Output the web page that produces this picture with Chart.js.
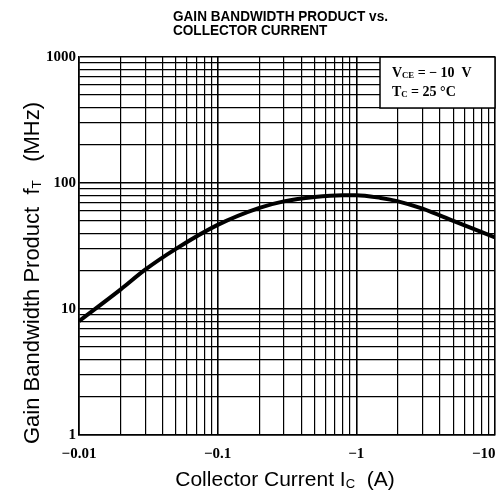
<!DOCTYPE html>
<html>
<head>
<meta charset="utf-8">
<script src="https://cdn.jsdelivr.net/npm/chart.js@4.4.0/dist/chart.umd.min.js"></script>
<style>
  html, body { margin: 0; padding: 0; background: #fff; }
  #wrap { width: 501px; height: 493px; }
</style>
</head>
<body>
<div id="wrap"><canvas id="graph"></canvas></div>
<script>
// collector current |Ic| (A) and gain bandwidth product fT (MHz)
const current = [0.01, 0.02, 0.03, 0.05, 0.1, 0.2, 0.3, 0.5, 0.8, 1, 1.5, 2, 3, 5, 10];
const fT = [8, 14.3, 20.5, 30, 46.5, 63.5, 71.5, 77.5, 80, 80, 76, 71.5, 62.5, 50, 37];

const xDecades = [0.01, 0.1, 1, 10];
const yDecades = [1, 10, 100, 1000];
const titleLines = ['GAIN BANDWIDTH PRODUCT vs.', 'COLLECTOR CURRENT'];

const serif = '"Liberation Serif", "DejaVu Serif", serif';
const sans = '"Liberation Sans", Arial, sans-serif';

function logTicks(decades) {
    let ticks = [];
    for (let i = 0; i < decades.length; i++) {
        if (i == decades.length - 1) { ticks.push({value: decades[i]}); break; }
        for (let m = 1; m < 10; m++) ticks.push({value: +(decades[i] * m).toPrecision(3)});
    }
    return ticks;
}

function isDecade(v) {
    return Math.abs(Math.log10(v) - Math.round(Math.log10(v))) < 1e-6;
}

// text with a small subscript part: pieces = [[text, sub?], ...]
function drawPieces(c, pieces, x, y, size, family, weight, align) {
    let widths = pieces.map(p => {
        c.font = weight + ' ' + (p[1] ? size * 0.62 : size) + 'px ' + family;
        return c.measureText(p[0]).width;
    });
    let total = widths.reduce((a, b) => a + b, 0);
    let cx = align == 'center' ? x - total / 2 : x;
    pieces.forEach((p, i) => {
        c.font = weight + ' ' + (p[1] ? size * 0.62 : size) + 'px ' + family;
        c.fillText(p[0], cx, p[1] ? y + size * 0.1 : y);
        cx += widths[i];
    });
}

const extraText = {
    id: 'extraText',
    afterDraw(chart) {
        const c = chart.ctx;
        const a = chart.chartArea;
        c.save();
        c.fillStyle = '#000';
        c.textBaseline = 'alphabetic';
        c.textAlign = 'left';

        // title, a narrow heavy face squeezed to the scanned width
        c.font = '600 14px ' + sans;
        let k = 215 / c.measureText(titleLines[0]).width;
        c.save();
        c.translate(173, 0);
        c.scale(k, 1);
        c.fillText(titleLines[0], 0, 21);
        c.fillText(titleLines[1], 0, 35);
        c.restore();

        // condition box
        const bx = 380, by = a.top, bw = a.right - 380, bh = 51;
        c.fillStyle = '#fff';
        c.fillRect(bx, by, bw, bh);
        c.strokeStyle = '#000';
        c.lineWidth = 1.5;
        c.strokeRect(bx, by, bw, bh);
        c.fillStyle = '#000';
        drawPieces(c, [['V', false], ['CE', true], [' = \u2212 10  V', false]], 392, by + 20, 14, serif, 'bold', 'left');
        drawPieces(c, [['T', false], ['C', true], [' = 25 \u00B0C', false]], 392, by + 39, 14, serif, 'bold', 'left');

        // axis titles
        drawPieces(c, [['Collector Current I', false], ['C', true], ['  (A)', false]], 285, 486, 21, sans, 'normal', 'center');
        c.save();
        c.translate(39, 273);
        c.rotate(-Math.PI / 2);
        drawPieces(c, [['Gain Bandwidth Product  f', false], ['T', true], ['   (MHz)', false]], 0, 0, 22, sans, 'normal', 'center');
        c.restore();
        c.restore();
    }
};

new Chart(document.getElementById('graph'), {
    type: 'line',
    data: {
        datasets: [{
            data: current.map((x, i) => ({x: x, y: fT[i]})),
            borderColor: '#000',
            borderWidth: 4,
            pointRadius: 0,
            cubicInterpolationMode: 'monotone',
            fill: false
        }]
    },
    options: {
        responsive: true,
        maintainAspectRatio: false,
        animation: false,
        layout: { padding: { top: 57, right: 6, left: 0, bottom: 0 } },
        plugins: { legend: { display: false }, tooltip: { enabled: false } },
        scales: {
            x: {
                type: 'logarithmic',
                min: 0.01,
                max: 10,
                afterBuildTicks: s => { s.ticks = logTicks(xDecades); },
                afterFit: s => { s.height = 58; s.paddingLeft = 0; s.paddingRight = 0; },
                border: { color: '#000', width: 1.5 },
                grid: {
                    color: '#000',
                    lineWidth: ctx => isDecade(ctx.tick.value) ? 1.6 : 1.2,
                    drawTicks: false
                },
                ticks: {
                    autoSkip: false,
                    maxRotation: 0,
                    padding: 10,
                    color: '#000',
                    font: { family: serif, size: 15, weight: 'bold' },
                    callback: v => {
                        if (!isDecade(v)) return '';
                        let s = '\u2212' + v;
                        return v == 10 ? s + '\u2002\u2002\u2002' : s;
                    }
                }
            },
            y: {
                type: 'logarithmic',
                min: 1,
                max: 1000,
                afterBuildTicks: s => { s.ticks = logTicks(yDecades); },
                afterFit: s => { s.width = 79; s.paddingTop = 0; s.paddingBottom = 0; },
                border: { color: '#000', width: 1.5 },
                grid: {
                    color: '#000',
                    lineWidth: ctx => isDecade(ctx.tick.value) ? 1.6 : 1.2,
                    drawTicks: false
                },
                ticks: {
                    autoSkip: false,
                    padding: 3,
                    color: '#000',
                    font: { family: serif, size: 15, weight: 'bold' },
                    callback: v => isDecade(v) ? String(v) : ''
                }
            }
        }
    },
    plugins: [extraText]
});
</script>
</body>
</html>
